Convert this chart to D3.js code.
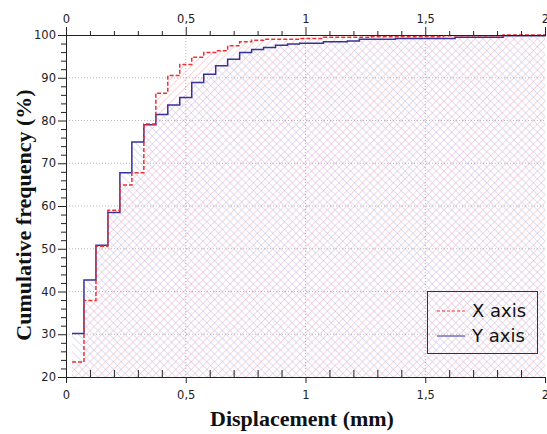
<!DOCTYPE html>
<html><head><meta charset="utf-8">
<script src="https://cdn.jsdelivr.net/npm/d3@7"></script>
<style>body{margin:0;background:#fff;}svg{display:block;}</style>
</head><body>
<script>
// ---- data ----
const xEdges = [0.025,0.075,0.125,0.175,0.225,0.275,0.325,0.375,0.425,0.475,0.525,0.575,0.625,0.675,0.725,0.775,0.825,0.875,0.925,0.975,1.075,1.175,1.225,1.275,1.375,1.575,1.625,1.825,2.0];
const xAxisValues = [23.5,37.9,50.6,59.0,64.9,67.8,79.2,86.4,90.5,93.1,94.8,95.9,96.3,97.5,98.4,98.75,99.0,99.0,99.0,99.2,99.45,99.45,99.45,99.6,99.6,99.85,99.85,100,100];
const yAxisValues = [30.2,42.7,50.8,58.5,67.8,75.0,79.0,81.4,83.6,85.4,88.9,90.8,92.8,94.3,95.9,96.6,97.1,97.6,97.9,98.05,98.4,98.6,99.0,99.0,99.2,99.2,99.45,99.8,100];
const seriesNames = ["X axis","Y axis"];
const xMajorTicks = [0,0.5,1,1.5,2];
const yMajorTicks = [20,30,40,50,60,70,80,90,100];

const W=547,H=434;
const L=66,R=545,T=35,B=377;
const x=d3.scaleLinear().domain([0,2]).range([L,R]);
const y=d3.scaleLinear().domain([20,100]).range([B,T]);
const svg=d3.select("body").append("svg").attr("width",W).attr("height",H);
const defs=svg.append("defs");
function hatch(id,color,angle){
  const p=defs.append("pattern").attr("id",id).attr("patternUnits","userSpaceOnUse")
    .attr("width",5.5).attr("height",5.5).attr("patternTransform","rotate("+angle+")");
  p.append("line").attr("x1",0).attr("y1",0).attr("x2",0).attr("y2",5.5)
    .attr("stroke",color).attr("stroke-width",1);
}
hatch("hr","#f4aabb",45);
hatch("hb","#bcc0ea",-45);

const pts=(vals)=>xEdges.map((e,i)=>[e,vals[i]]);
const area=d3.area().x(d=>x(d[0])).y0(y(20)).y1(d=>y(d[1])).curve(d3.curveStepAfter);
const line=d3.line().x(d=>x(d[0])).y(d=>y(d[1])).curve(d3.curveStepAfter);

svg.append("path").attr("d",area(pts(xAxisValues))).attr("fill","url(#hr)");
svg.append("path").attr("d",area(pts(yAxisValues))).attr("fill","url(#hb)");

// grid
const g=svg.append("g").attr("stroke","#b8b8b8").attr("stroke-dasharray","1,2").attr("stroke-width",1);
[0.5,1,1.5].forEach(v=>g.append("line").attr("x1",x(v)).attr("x2",x(v)).attr("y1",T).attr("y2",B));
[30,40,50,60,70,80,90].forEach(v=>g.append("line").attr("x1",L).attr("x2",R).attr("y1",y(v)).attr("y2",y(v)));

// lines
svg.append("path").attr("d",line(pts(yAxisValues))).attr("fill","none").attr("stroke","#33339a").attr("stroke-width",1.5);
svg.append("path").attr("d",line(pts(xAxisValues))).attr("fill","none").attr("stroke","#f03030").attr("stroke-width",1.5).attr("stroke-dasharray","4,2");

// axes
const fmt=d=>String(d).replace(".",",");
const minorX=d3.range(0,2.0001,0.1).map(v=>+v.toFixed(2)).filter(v=>!xMajorTicks.includes(v));
const minorY=d3.range(20,100.001,2).filter(v=>!yMajorTicks.includes(v));
const font="DejaVu Sans";
function style(sel){sel.selectAll("text").attr("font-family",font).attr("font-size",11.5).attr("fill","#222");
  sel.selectAll("line,path").attr("stroke","#222");}
// bottom
let a=svg.append("g").attr("transform",`translate(0,${B})`).call(d3.axisBottom(x).tickValues(xMajorTicks).tickFormat(fmt).tickSize(6).tickPadding(8));
style(a);
a=svg.append("g").attr("transform",`translate(0,${B})`).call(d3.axisTop(x).tickValues(minorX).tickFormat("").tickSize(7).tickSizeOuter(0));
style(a);
// top
a=svg.append("g").attr("transform",`translate(0,${T})`).call(d3.axisTop(x).tickValues(xMajorTicks).tickFormat(fmt).tickSize(8).tickPadding(4));
style(a);
a=svg.append("g").attr("transform",`translate(0,${T})`).call(d3.axisTop(x).tickValues(minorX).tickFormat("").tickSize(4).tickSizeOuter(0));
style(a);
// left
a=svg.append("g").attr("transform",`translate(${L},0)`).call(d3.axisLeft(y).tickValues(yMajorTicks).tickSize(8).tickPadding(2));
style(a);
a=svg.append("g").attr("transform",`translate(${L},0)`).call(d3.axisLeft(y).tickValues(minorY).tickFormat("").tickSize(5).tickSizeOuter(0));
style(a);

// titles
svg.append("text").attr("x",302).attr("y",426).attr("text-anchor","middle")
  .attr("font-family","Liberation Serif").attr("font-weight","bold").attr("font-size",22).attr("fill","#111")
  .text("Displacement (mm)");
svg.append("text").attr("transform","translate(31,215) rotate(-90)").attr("text-anchor","middle")
  .attr("font-family","Liberation Serif").attr("font-weight","bold").attr("font-size",22).attr("fill","#111")
  .text("Cumulative frequency (%)");

// legend
const lg=svg.append("g");
lg.append("rect").attr("x",427.5).attr("y",291.5).attr("width",110).attr("height",62).attr("fill","none").attr("stroke","#333").attr("stroke-width",1);
const legendStyles=[{c:"#f03030",d:"3,2"},{c:"#33339a",d:null}];
seriesNames.forEach((n,i)=>{
  const yy=311+i*25;
  const ln=lg.append("line").attr("x1",437).attr("x2",465).attr("y1",yy).attr("y2",yy).attr("stroke",legendStyles[i].c).attr("stroke-width",1);
  if(legendStyles[i].d) ln.attr("stroke-dasharray",legendStyles[i].d);
  lg.append("text").attr("x",472).attr("y",yy+6).attr("font-family",font).attr("font-size",18).attr("fill","#111").text(n);
});
</script>
</body></html>
